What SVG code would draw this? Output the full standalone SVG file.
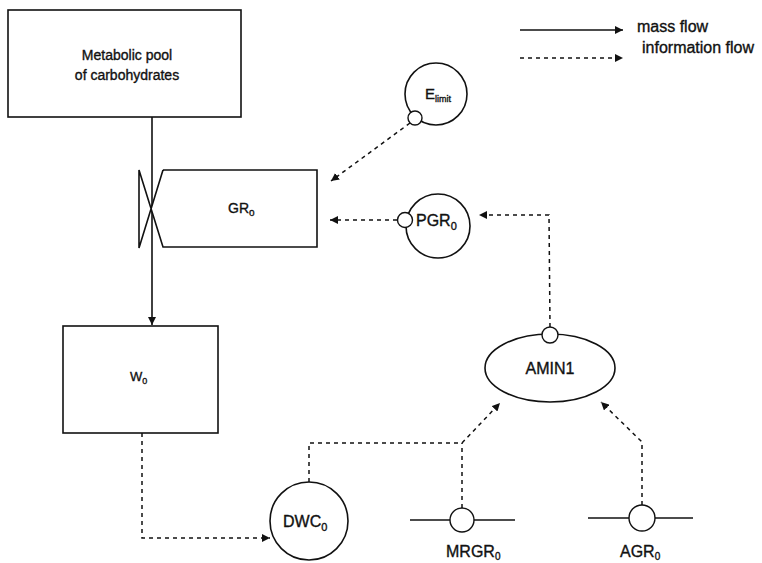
<svg xmlns="http://www.w3.org/2000/svg" width="762" height="563" viewBox="0 0 762 563">
<style>
.box{fill:#fff;stroke:#111;stroke-width:1.6}
.sm{fill:#fff;stroke:#111;stroke-width:1.4}
.t{font-family:"Liberation Sans",Arial,sans-serif;fill:#111;stroke:#111;stroke-width:0.35}
.solid{fill:none;stroke:#111;stroke-width:1.6}
.dash{fill:none;stroke:#111;stroke-width:1.5;stroke-dasharray:4 4}
</style>
<defs>
<marker id="ah" viewBox="0 0 10 10" refX="10" refY="5" markerWidth="8" markerHeight="8" markerUnits="userSpaceOnUse" orient="auto">
<path d="M0,0 L10,5 L0,10 z" fill="#111"/>
</marker>
</defs>
<rect width="762" height="563" fill="#fff"/>

<g id="legend">
<line class="solid" x1="520" y1="30" x2="623" y2="30" marker-end="url(#ah)"/>
<line class="dash" x1="520" y1="58" x2="623" y2="58" marker-end="url(#ah)"/>
<text class="t" x="637" y="32" font-size="16">mass flow</text>
<text class="t" x="642" y="53" font-size="16">information flow</text>
</g>

<g id="connectors">
<line class="solid" x1="152" y1="117" x2="152" y2="325" marker-end="url(#ah)"/>
<line class="dash" x1="410" y1="123" x2="331" y2="181" marker-end="url(#ah)"/>
<line class="dash" x1="397" y1="220" x2="330" y2="220" marker-end="url(#ah)"/>
<polyline class="dash" points="550,327 549,215 479,215" marker-end="url(#ah)"/>
<polyline class="dash" points="142,433 142,538 270,538" marker-end="url(#ah)"/>
<polyline class="dash" points="309,482 309,443 462,443 500,403" marker-end="url(#ah)"/>
<line class="dash" x1="462" y1="508" x2="462" y2="443"/>
<polyline class="dash" points="642,505 642,442 601,402" marker-end="url(#ah)"/>
</g>

<g id="pool">
<rect class="box" x="8" y="10" width="233" height="107"/>
<text class="t" x="127" y="60" font-size="14" text-anchor="middle">Metabolic pool</text>
<text class="t" x="127" y="80" font-size="14" text-anchor="middle">of carbohydrates</text>
</g>

<g id="GR0">
<path class="box" d="M163,170 L317,170 L317,247 L163,247 L139,170 L139,248 L163,170" fill="none"/>
<text class="t" x="228" y="213" font-size="14">GR<tspan font-size="10" dy="3">o</tspan></text>
</g>

<g id="W0">
<rect class="box" x="63" y="326" width="155" height="107"/>
<text class="t" x="130" y="381" font-size="13">W<tspan font-size="9" dy="3">0</tspan></text>
</g>

<g id="Elimit">
<circle class="box" cx="436" cy="94" r="31"/>
<circle class="sm" cx="415" cy="118" r="7"/>
<text class="t" x="425" y="99" font-size="15">E<tspan font-size="9" dy="3">limit</tspan></text>
</g>

<g id="PGR0">
<circle class="box" cx="438" cy="226" r="32"/>
<circle class="sm" cx="405" cy="220" r="7.5"/>
<text class="t" x="416" y="226" font-size="16">PGR<tspan font-size="11" dy="4">0</tspan></text>
</g>

<g id="AMIN1">
<ellipse class="box" cx="550" cy="368" rx="65" ry="34"/>
<circle class="sm" cx="550" cy="335" r="8"/>
<text class="t" x="550" y="374" font-size="16" text-anchor="middle">AMIN1</text>
</g>

<g id="DWC0">
<circle class="box" cx="309" cy="521" r="39"/>
<text class="t" x="283" y="527" font-size="16">DWC<tspan font-size="11" dy="4">0</tspan></text>
</g>

<g id="MRGR0">
<line class="solid" x1="410" y1="520" x2="515" y2="520"/>
<circle class="sm" cx="462" cy="520" r="12" fill="none"/>
<text class="t" x="446" y="557" font-size="16">MRGR<tspan font-size="10" dy="3">0</tspan></text>
</g>

<g id="AGR0">
<line class="solid" x1="588" y1="518" x2="693" y2="518"/>
<circle class="sm" cx="642" cy="518" r="13" fill="none"/>
<text class="t" x="620" y="557" font-size="16">AGR<tspan font-size="10" dy="3">0</tspan></text>
</g>
</svg>
